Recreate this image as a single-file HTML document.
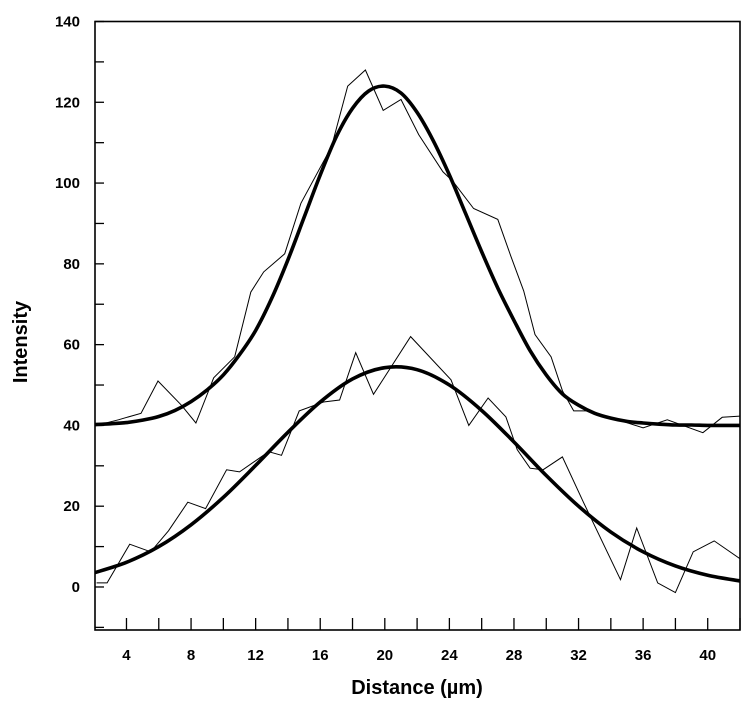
<!DOCTYPE html>
<html><head><meta charset="utf-8"><style>
html,body{margin:0;padding:0;background:#fff;}
svg{display:block;font-family:"Liberation Sans",Arial,sans-serif;}
</style></head><body>
<svg id="chart" width="750" height="708" viewBox="0 0 750 708"></svg>
<script>
const xTickValues=[4,8,12,16,20,24,28,32,36,40];
const yTickValues=[0,20,40,60,80,100,120,140];
const fitUpperX=[2,3,4,5,6,7,8,9,10,11,12,13,14,15,16,17,18,19,20,21,22,23,24,25,26,27,28,29,30,31,32,33,34,35,36,37,38,39,40,41,42];
const fitUpperY=[40.2,40.4,40.7,41.3,42.2,43.7,45.9,48.8,52.5,57.5,63.5,71.5,81,91.5,102,111.5,118.5,122.8,124,122.3,117.5,110.5,102,92.5,83,74,66,58.5,52.5,47.8,45,43,41.8,41,40.6,40.3,40.1,40.1,40,40,40];
const fitLowerX=[2,4,6,8,10,12,14,16,18,20,22,24,26,28,30,32,34,36,38,40,42];
const fitLowerY=[3.5,6.1,10,15.4,22.2,30.1,38.3,45.8,51.5,54.3,53.8,50,43.7,35.9,27.6,20,13.6,8.7,5.2,2.9,1.5];
const rawUpperX=[2.15,3.5,4.9,5.95,7.4,8.3,9.4,10.7,11.7,12.5,13.8,14.8,16.7,17.7,18.8,19.9,21.0,22.1,23.6,24.2,25.5,27,27.8,28.6,29.3,30.3,31,31.7,32.7,36,37.5,39.7,40.9,42];
const rawUpperY=[40,41.4,43,51,45,40.6,51.8,57,73,78,82.5,95,109,124,128,118,120.7,112,102.8,100.5,93.7,91,82,73.3,62.5,57,48.6,43.6,43.6,39.4,41.4,38.2,42,42.3];
const rawLowerX=[2.15,2.8,4.2,5.5,6.6,7.8,8.9,10.2,11,12.8,13.6,14.7,16.2,17.2,18.2,19.3,21.6,24.1,25.2,26.4,27.5,28.2,29,29.8,31,32.3,34.6,35.6,36.9,38,39.1,40.4,42];
const rawLowerY=[1,1,10.6,8.7,13.9,21,19.4,29,28.5,33.5,32.6,43.6,45.8,46.3,58,47.7,62,51.3,40,46.8,42.1,34,29.4,29,32.2,21,1.8,14.6,1,-1.4,8.7,11.4,7];

const L=95,R=740,T=21.5,B=630;
const X0=2.05,X1=42,Y0=-10.65,Y1=140;
const sx=v=>L+(v-X0)/(X1-X0)*(R-L);
const sy=v=>B-(v-Y0)/(Y1-Y0)*(B-T);
const NS="http://www.w3.org/2000/svg";
const svg=document.getElementById('chart');
function mk(tag,attrs,parent){const e=document.createElementNS(NS,tag);for(const k in attrs)e.setAttribute(k,attrs[k]);(parent||svg).appendChild(e);return e;}

const clip=mk('clipPath',{id:'pc'});mk('rect',{x:L,y:T,width:R-L,height:B-T},clip);

const frame=mk('rect',{x:L,y:T,width:R-L,height:B-T,fill:'none',stroke:'#000','stroke-width':1.6});



const axisG=mk('g',{});


for(let v=-10;v<=140;v+=10){
  const t=mk('line',{x1:L,x2:L+9,y1:sy(v),y2:sy(v),stroke:'#000','stroke-width':1.3},axisG);
  
  
}
yTickValues.forEach(v=>{
  const t=mk('text',{x:80,y:sy(v)+5,'text-anchor':'end','font-size':15,'font-weight':'bold'},axisG);
  t.textContent=v;
  
  
});
for(let v=4;v<=42;v+=2){
  const t=mk('line',{x1:sx(v),x2:sx(v),y1:B,y2:B-12,stroke:'#000','stroke-width':1.3},axisG);
  
  
}
xTickValues.forEach(v=>{
  const t=mk('text',{x:sx(v),y:660,'text-anchor':'middle','font-size':15,'font-weight':'bold'},axisG);
  t.textContent=v;
  
  
});
const xt=mk('text',{x:417,y:694,'text-anchor':'middle','font-size':20,'font-weight':'bold'});
xt.textContent='Distance (\u00b5m)';


const yt=mk('text',{x:0,y:0,'text-anchor':'middle','font-size':20,'font-weight':'bold',transform:'translate(27,342) rotate(-90)'});
yt.textContent='Intensity';



function poly(xs,ys){return xs.map((x,i)=>(i?'L':'M')+sx(x).toFixed(1)+','+sy(ys[i]).toFixed(1)).join('');}
function smooth(xs,ys){
  const p=xs.map((x,i)=>[sx(x),sy(ys[i])]);let d='M'+p[0][0]+','+p[0][1];
  for(let i=0;i<p.length-1;i++){const a=p[i-1]||p[i],b=p[i],c=p[i+1],e=p[i+2]||c;
    d+='C'+(b[0]+(c[0]-a[0])/6)+','+(b[1]+(c[1]-a[1])/6)+' '+(c[0]-(e[0]-b[0])/6)+','+(c[1]-(e[1]-b[1])/6)+' '+c[0]+','+c[1];}
  return d;}
const g=mk('g',{'clip-path':'url(#pc)'});
const s1=mk('path',{d:poly(rawUpperX,rawUpperY),fill:'none',stroke:'#000','stroke-width':1},g);


const s2=mk('path',{d:poly(rawLowerX,rawLowerY),fill:'none',stroke:'#000','stroke-width':1},g);


const s3=mk('path',{d:smooth(fitUpperX,fitUpperY),fill:'none',stroke:'#000','stroke-width':3.6},g);


const s4=mk('path',{d:smooth(fitLowerX,fitLowerY),fill:'none',stroke:'#000','stroke-width':3.6},g);


</script>
</body></html>
